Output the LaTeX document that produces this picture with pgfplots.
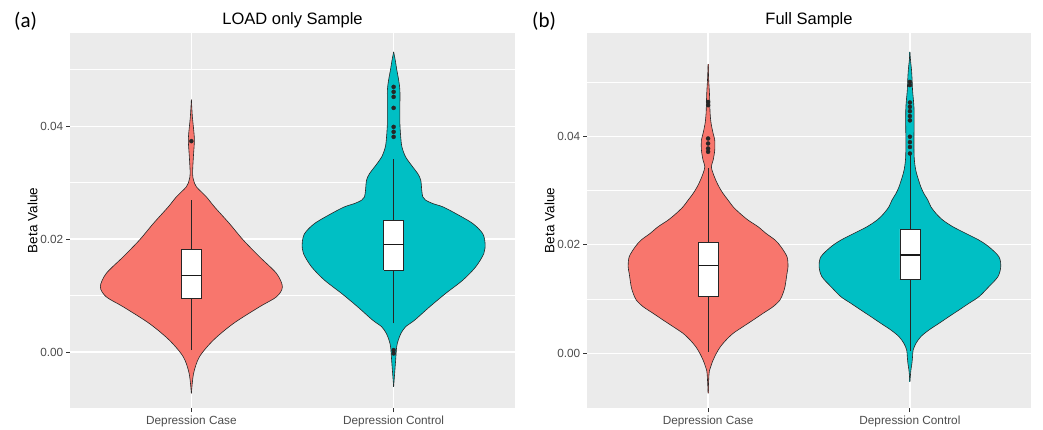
\documentclass[border=0pt]{standalone}
\usepackage{fontspec}
\setmainfont{Liberation Sans}
\newfontfamily\panelfont{Carlito}
\usepackage{pgfplots}
\pgfplotsset{compat=1.18}
\usepackage{pgfplotstable}

\definecolor{vred}{HTML}{F8766D}
\definecolor{vteal}{HTML}{00BFC4}
\definecolor{panel}{HTML}{EBEBEB}
\definecolor{tickc}{HTML}{333333}
\definecolor{labc}{HTML}{4D4D4D}

\pgfplotstableread{
y w
-0.00732 0
-0.00378 0.011
-0.00083 0.040
0.00212 0.109
0.00507 0.208
0.00802 0.337
0.00979 0.421
0.01156 0.450
0.01392 0.421
0.01687 0.337
0.01982 0.257
0.02277 0.188
0.02572 0.114
0.02749 0.074
0.02926 0.025
0.03044 0.011
0.03162 0.006
0.03457 0.010
0.03752 0.015
0.03988 0.010
0.04165 0.005
0.04472 0
}\LcaseV

\pgfplotstableread{
y w
-0.00614 0
-0.00378 0.005
-0.00142 0.010
0.00094 0.015
0.00212 0.023
0.00330 0.036
0.00448 0.059
0.00566 0.104
0.00802 0.178
0.01038 0.257
0.01274 0.342
0.01510 0.406
0.01746 0.446
0.01923 0.452
0.02100 0.440
0.02277 0.391
0.02454 0.307
0.02572 0.243
0.02631 0.193
0.02690 0.158
0.02749 0.144
0.02867 0.139
0.03044 0.134
0.03162 0.119
0.03280 0.094
0.03457 0.059
0.03634 0.041
0.03811 0.035
0.04047 0.031
0.04342 0.031
0.04637 0.031
0.04814 0.025
0.04991 0.016
0.05168 0.008
0.05316 0
}\LctrlV

\pgfplotstableread{
y w
-0.00736 0
-0.00368 0.005
-0.00245 0.013
-0.00123 0.025
0.00000 0.041
0.00123 0.061
0.00245 0.089
0.00368 0.124
0.00491 0.173
0.00613 0.223
0.00736 0.272
0.00859 0.322
0.00982 0.356
0.01104 0.371
0.01227 0.381
0.01472 0.391
0.01595 0.396
0.01779 0.391
0.01963 0.361
0.02086 0.332
0.02209 0.287
0.02331 0.248
0.02454 0.198
0.02577 0.158
0.02699 0.124
0.02822 0.099
0.02945 0.074
0.03067 0.054
0.03190 0.038
0.03313 0.025
0.03436 0.016
0.03558 0.025
0.03742 0.033
0.03926 0.033
0.04049 0.025
0.04233 0.015
0.04417 0.010
0.04663 0.008
0.04847 0.006
0.05031 0.003
0.05325 0
}\RcaseV

\pgfplotstableread{
y w
-0.00521 0
-0.00307 0.005
-0.00184 0.010
-0.00061 0.013
0.00061 0.016
0.00184 0.030
0.00307 0.054
0.00429 0.094
0.00552 0.144
0.00675 0.193
0.00798 0.243
0.00920 0.292
0.01043 0.342
0.01227 0.391
0.01411 0.436
0.01595 0.450
0.01779 0.441
0.01963 0.391
0.02086 0.342
0.02209 0.277
0.02331 0.213
0.02454 0.163
0.02577 0.129
0.02699 0.104
0.02822 0.089
0.02945 0.069
0.03067 0.054
0.03190 0.043
0.03313 0.033
0.03436 0.026
0.03620 0.021
0.03926 0.020
0.04233 0.021
0.04540 0.020
0.04847 0.013
0.05031 0.011
0.05215 0.008
0.05399 0.003
0.05552 0
}\RctrlV

\pgfplotsset{
  gg/.style={
    scale only axis, height=375pt,
    xmin=0.4, xmax=2.6, xtick={1,2},
    xticklabels={Depression Case,Depression Control},
    ytick={0,0.02,0.04}, minor ytick={0.01,0.03,0.05},
    scaled y ticks=false,
    /pgf/number format/assume math mode=true,
    yticklabel style={/pgf/number format/fixed, /pgf/number format/fixed zerofill, /pgf/number format/precision=2, inner sep=2.5pt},
    axis background/.style={fill=panel},
    axis line style={draw=none},
    xmajorgrids, ymajorgrids, yminorgrids,
    major grid style={white, line width=1.3pt},
    minor grid style={white, line width=0.7pt},
    tick align=outside, tick pos=left,
    major tick length=4pt, minor tick length=0.01pt,
    major tick style={tickc, line width=0.9pt},
    minor tick style={draw=none},
    ticklabel style={font=\fontsize{11.8}{13}\selectfont, text=labc},
    ylabel={Beta Value},
    ylabel style={font=\fontsize{13.5}{15}\selectfont, at={(axis description cs:0,0.5)}, anchor=center, yshift=37.5pt},
  },
  vout/.style={draw=black!85, line width=0.6pt, smooth, tension=0.5},
  vfill/.style={draw=none, smooth, tension=0.5, fill=#1},
  bx/.style={fill=white, draw=black!85, line width=0.6pt},
  wk/.style={draw=black!85, line width=0.6pt},
  md/.style={draw=black!90, line width=1.2pt},
  outl/.style={only marks, mark=*, mark size=2pt, black!85},
}

\begin{document}
\begin{tikzpicture}
\path[use as bounding box, fill=white] (0,0) rectangle (1043pt,429pt);

% (a) LOAD only Sample
\begin{axis}[gg, at={(70pt,21pt)}, anchor=south west, width=445pt,
  ymin=-0.0099, ymax=0.0565]
  \addplot[vfill=vred] table[x expr=1+\thisrow{w}, y=y]{\LcaseV};
  \addplot[vfill=vred] table[x expr=1-\thisrow{w}, y=y]{\LcaseV};
  \addplot[vred, line width=1pt] table[x expr=1, y=y]{\LcaseV};
  \addplot[vout] table[x expr=1+\thisrow{w}, y=y]{\LcaseV};
  \addplot[vout] table[x expr=1-\thisrow{w}, y=y]{\LcaseV};
  \addplot[vfill=vteal] table[x expr=2+\thisrow{w}, y=y]{\LctrlV};
  \addplot[vfill=vteal] table[x expr=2-\thisrow{w}, y=y]{\LctrlV};
  \addplot[vteal, line width=1pt] table[x expr=2, y=y]{\LctrlV};
  \addplot[vout] table[x expr=2+\thisrow{w}, y=y]{\LctrlV};
  \addplot[vout] table[x expr=2-\thisrow{w}, y=y]{\LctrlV};
  % box: case
  \addplot[wk] coordinates {(1,0.00035) (1,0.0269)};
  \addplot[bx] coordinates {(0.95,0.0095) (1.05,0.0095) (1.05,0.01817) (0.95,0.01817) (0.95,0.0095)};
  \addplot[md] coordinates {(0.95,0.01357) (1.05,0.01357)};
  % box: control
  \addplot[wk] coordinates {(2,0.00507) (2,0.03416)};
  \addplot[bx] coordinates {(1.95,0.01451) (2.05,0.01451) (2.05,0.0233) (1.95,0.0233) (1.95,0.01451)};
  \addplot[md] coordinates {(1.95,0.01912) (2.05,0.01912)};
  \addplot[outl] coordinates {(1,0.03735)};
  \addplot[outl] coordinates {(2,0.04696) (2,0.04608) (2,0.04519) (2,0.04324) (2,0.03988) (2,0.03900) (2,0.03811) (2,0.00035) (2,-0.00024)};
\end{axis}

% (b) Full Sample
\begin{axis}[gg, at={(587pt,21pt)}, anchor=south west, width=444pt,
  ymin=-0.01007, ymax=0.0590]
  \addplot[vfill=vred] table[x expr=1+\thisrow{w}, y=y]{\RcaseV};
  \addplot[vfill=vred] table[x expr=1-\thisrow{w}, y=y]{\RcaseV};
  \addplot[vred, line width=1pt] table[x expr=1, y=y]{\RcaseV};
  \addplot[vout] table[x expr=1+\thisrow{w}, y=y]{\RcaseV};
  \addplot[vout] table[x expr=1-\thisrow{w}, y=y]{\RcaseV};
  \addplot[vfill=vteal] table[x expr=2+\thisrow{w}, y=y]{\RctrlV};
  \addplot[vfill=vteal] table[x expr=2-\thisrow{w}, y=y]{\RctrlV};
  \addplot[vteal, line width=1pt] table[x expr=2, y=y]{\RctrlV};
  \addplot[vout] table[x expr=2+\thisrow{w}, y=y]{\RctrlV};
  \addplot[vout] table[x expr=2-\thisrow{w}, y=y]{\RctrlV};
  \addplot[wk] coordinates {(1,0.00031) (1,0.03405)};
  \addplot[bx] coordinates {(0.95,0.01043) (1.05,0.01043) (1.05,0.02037) (0.95,0.02037) (0.95,0.01043)};
  \addplot[md] coordinates {(0.95,0.01613) (1.05,0.01613)};
  \addplot[wk] coordinates {(2,0.0005) (2,0.0365)};
  \addplot[bx] coordinates {(1.95,0.01368) (2.05,0.01368) (2.05,0.02288) (1.95,0.02288) (1.95,0.01368)};
  \addplot[md] coordinates {(1.95,0.0181) (2.05,0.0181)};
  \addplot[outl] coordinates {(1,0.03957) (1,0.03865) (1,0.03773) (1,0.03712) (1,0.04630) (1,0.04570)};
  \addplot[outl] coordinates {(2,0.03681) (2,0.03800) (2,0.03890) (2,0.03990) (2,0.04290) (2,0.04370) (2,0.04460) (2,0.04540) (2,0.04620) (2,0.04940) (2,0.05000)};
\end{axis}

\node[anchor=base, font=\fontsize{16.5}{18}\selectfont] at (292.5pt,404pt) {LOAD only Sample};
\node[anchor=base, font=\fontsize{16.5}{18}\selectfont] at (809pt,404pt) {Full Sample};
\node[anchor=base west, inner sep=0pt, font=\panelfont\fontsize{21}{24}\selectfont] at (14pt,401pt) {(a)};
\node[anchor=base west, inner sep=0pt, font=\panelfont\fontsize{21}{24}\selectfont] at (532pt,401pt) {(b)};
\end{tikzpicture}
\end{document}
